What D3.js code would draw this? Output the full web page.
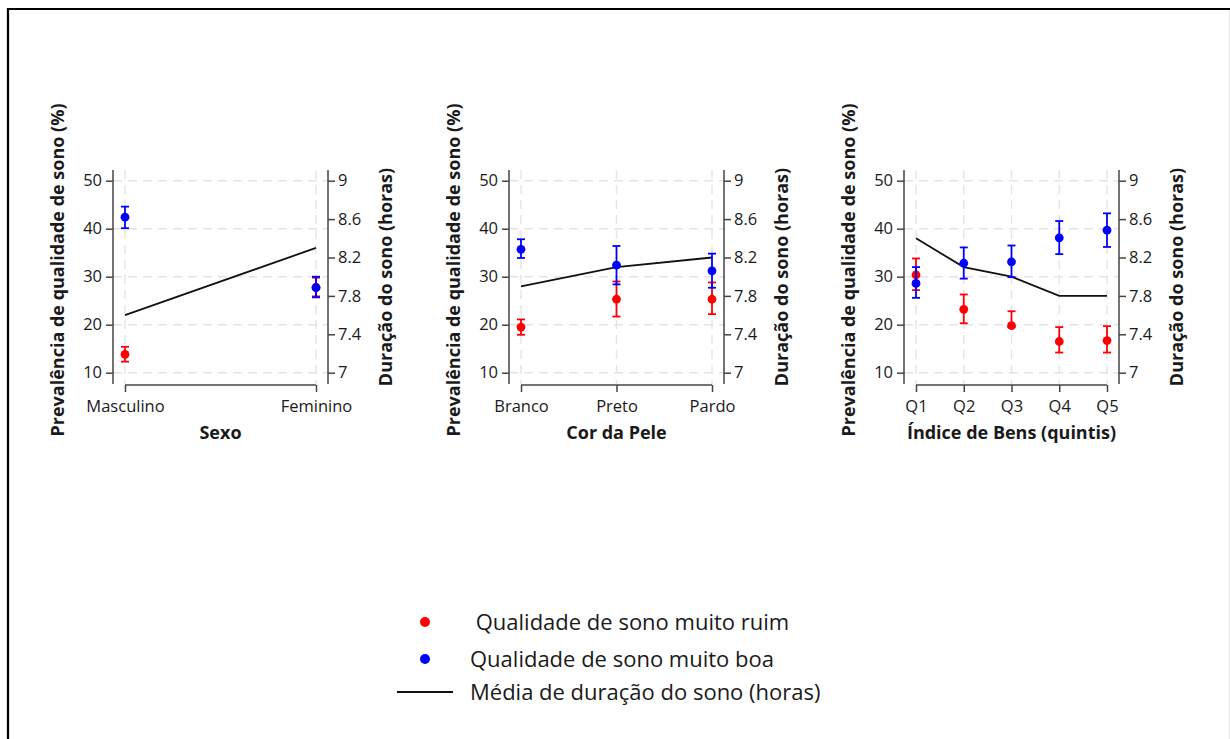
<!DOCTYPE html>
<html><head><meta charset="utf-8">
<script src="https://cdn.jsdelivr.net/npm/d3@7"></script>
<style>body{margin:0;background:#fff}svg{display:block}text{font-family:"Open Sans",sans-serif;fill:#1a1a1a}</style>
</head><body><svg id="c" width="1230" height="739"></svg>
<script>
// ---- data ----
const sexoCats = ["Masculino","Feminino"];
const sexoRuim = [13.8, 27.8];
const sexoRuimLo = [12.3, 25.9];
const sexoRuimHi = [15.4, 29.8];
const sexoBoa = [42.4, 27.7];
const sexoBoaLo = [40.1, 25.7];
const sexoBoaHi = [44.6, 30.0];
const sexoDur = [7.6, 8.3];

const peleCats = ["Branco","Preto","Pardo"];
const peleRuim = [19.5, 25.3, 25.3];
const peleRuimLo = [17.9, 21.7, 22.2];
const peleRuimHi = [21.1, 29.0, 28.8];
const peleBoa = [35.7, 32.4, 31.2];
const peleBoaLo = [33.9, 28.4, 27.7];
const peleBoaHi = [37.8, 36.4, 34.8];
const peleDur = [7.9, 8.1, 8.2];

const bensCats = ["Q1","Q2","Q3","Q4","Q5"];
const bensRuim = [30.4, 23.2, 19.8, 16.5, 16.7];
const bensRuimLo = [27.2, 20.3, 19.5, 14.2, 14.2];
const bensRuimHi = [33.8, 26.3, 22.8, 19.5, 19.7];
const bensBoa = [28.6, 32.8, 33.1, 38.1, 39.7];
const bensBoaLo = [25.6, 29.6, 29.9, 34.7, 36.2];
const bensBoaHi = [32.0, 36.1, 36.5, 41.6, 43.2];
const bensDur = [8.4, 8.1, 8.0, 7.8, 7.8];

const leftTicks = [10,20,30,40,50];
const rightTicks = [7,7.4,7.8,8.2,8.6,9];
const leftTitle = "Prevalência de qualidade de sono (%)";
const rightTitle = "Duração do sono (horas)";
const legendLabels = [" Qualidade de sono muito ruim","Qualidade de sono muito boa","Média de duração do sono (horas)"];

const panels = [
  {title:"Sexo", cats:sexoCats, ruim:sexoRuim, ruimLo:sexoRuimLo, ruimHi:sexoRuimHi, boa:sexoBoa, boaLo:sexoBoaLo, boaHi:sexoBoaHi, dur:sexoDur},
  {title:"Cor da Pele", cats:peleCats, ruim:peleRuim, ruimLo:peleRuimLo, ruimHi:peleRuimHi, boa:peleBoa, boaLo:peleBoaLo, boaHi:peleBoaHi, dur:peleDur},
  {title:"Índice de Bens (quintis)", cats:bensCats, ruim:bensRuim, ruimLo:bensRuimLo, ruimHi:bensRuimHi, boa:bensBoa, boaLo:bensBoaLo, boaHi:bensBoaHi, dur:bensDur}
];

// ---- drawing ----
const svg = d3.select("#c");
// frame
svg.append("line").attr("x1",8).attr("x2",1230).attr("y1",9).attr("y2",9).attr("stroke","#000").attr("stroke-width",2.2);
svg.append("line").attr("x1",8).attr("x2",8).attr("y1",8).attr("y2",739).attr("stroke","#000").attr("stroke-width",2.2);
svg.append("line").attr("x1",1229.5).attr("x2",1229.5).attr("y1",10).attr("y2",739).attr("stroke","#e4e4e4").attr("stroke-width",1);

const yTop = 180.7, yBot = 372.7;
const axisColor = "#444";
const RED = "#ff0000", BLUE = "#0000ff";
const lefts = [113, 509, 904];
const W = 215;
const TICKFS = 16.5, TITLEFS = 18;

panels.forEach((p, i) => {
  const L = lefts[i], R = L + W;
  const g = svg.append("g");
  const x = d3.scalePoint().domain(p.cats).range([L + 12, R - 12]);
  const yL = d3.scaleLinear().domain([10,50]).range([yBot, yTop]);
  const yR = d3.scaleLinear().domain([7,9]).range([yBot, yTop]);

  // grid
  g.selectAll(".hg").data(leftTicks).join("line")
    .attr("x1", L).attr("x2", R).attr("y1", d=>yL(d)).attr("y2", d=>yL(d))
    .attr("stroke","#e4e4e4").attr("stroke-width",1.4).attr("stroke-dasharray","9,6");
  g.selectAll(".vg").data(p.cats).join("line")
    .attr("x1", d=>x(d)).attr("x2", d=>x(d)).attr("y1", 170).attr("y2", 384)
    .attr("stroke","#e4e4e4").attr("stroke-width",1.4).attr("stroke-dasharray","9,6");

  // left axis
  const la = g.append("g").attr("transform",`translate(${L},0)`)
    .call(d3.axisLeft(yL).tickValues(leftTicks).tickSize(7).tickPadding(4).tickFormat(d3.format("d")));
  la.select(".domain").remove();
  la.append("line").attr("x1",0).attr("x2",0).attr("y1",170).attr("y2",384).attr("stroke",axisColor).attr("stroke-width",1.5);
  la.selectAll(".tick line").attr("stroke",axisColor).attr("stroke-width",1.5);
  la.selectAll(".tick text").attr("font-size",TICKFS).attr("font-family","Open Sans").attr("fill","#1a1a1a");

  // right axis
  const ra = g.append("g").attr("transform",`translate(${R},0)`)
    .call(d3.axisRight(yR).tickValues(rightTicks).tickSize(7).tickPadding(3).tickFormat(d => d3.format("~g")(d)));
  ra.select(".domain").remove();
  ra.append("line").attr("x1",0).attr("x2",0).attr("y1",170).attr("y2",384).attr("stroke",axisColor).attr("stroke-width",1.5);
  ra.selectAll(".tick line").attr("stroke",axisColor).attr("stroke-width",1.5);
  ra.selectAll(".tick text").attr("font-size",TICKFS).attr("font-family","Open Sans").attr("fill","#1a1a1a");

  // bottom axis
  const ba = g.append("g").attr("transform",`translate(0,385)`)
    .call(d3.axisBottom(x).tickSize(7).tickPadding(8));
  ba.select(".domain").remove();
  ba.append("line").attr("x1",x(p.cats[0])).attr("x2",x(p.cats[p.cats.length-1])).attr("y1",0).attr("y2",0).attr("stroke",axisColor).attr("stroke-width",1.5);
  ba.selectAll(".tick line").attr("stroke",axisColor).attr("stroke-width",1.5);
  ba.selectAll(".tick text").attr("font-size",TICKFS).attr("font-family","Open Sans").attr("fill","#1a1a1a");

  // axis titles
  g.append("text").attr("x", (L+R)/2).attr("y", 433).attr("dy","0.35em").attr("text-anchor","middle")
    .attr("font-size",TITLEFS).attr("font-weight","bold").text(p.title);
  g.append("text").attr("transform",`translate(${L-55},270) rotate(-90)`).attr("dy","0.35em").attr("text-anchor","middle")
    .attr("font-size",TITLEFS).attr("font-weight","bold").text(leftTitle);
  g.append("text").attr("transform",`translate(${R+58},277) rotate(-90)`).attr("dy","0.35em").attr("text-anchor","middle")
    .attr("font-size",TITLEFS).attr("font-weight","bold").text(rightTitle);

  // duration line
  g.append("path").datum(p.dur)
    .attr("d", d3.line().x((d,j)=>x(p.cats[j])).y(d=>yR(d)))
    .attr("fill","none").attr("stroke","#111").attr("stroke-width",1.8);

  // error bars and points
  const series = [
    {v:p.ruim, lo:p.ruimLo, hi:p.ruimHi, c:RED},
    {v:p.boa, lo:p.boaLo, hi:p.boaHi, c:BLUE}
  ];
  series.forEach(s => {
    const sg = g.append("g");
    p.cats.forEach((c, j) => {
      const cx = x(c);
      sg.append("line").attr("x1",cx).attr("x2",cx).attr("y1",yL(s.lo[j])).attr("y2",yL(s.hi[j])).attr("stroke",s.c).attr("stroke-width",1.8);
      sg.append("line").attr("x1",cx-4).attr("x2",cx+4).attr("y1",yL(s.lo[j])).attr("y2",yL(s.lo[j])).attr("stroke",s.c).attr("stroke-width",1.8);
      sg.append("line").attr("x1",cx-4).attr("x2",cx+4).attr("y1",yL(s.hi[j])).attr("y2",yL(s.hi[j])).attr("stroke",s.c).attr("stroke-width",1.8);
      sg.append("circle").attr("cx",cx).attr("cy",yL(s.v[j])).attr("r",4.4).attr("fill",s.c);
    });
  });
});

// legend
const lg = svg.append("g");
lg.append("circle").attr("cx",425).attr("cy",622).attr("r",5).attr("fill",RED);
lg.append("circle").attr("cx",425).attr("cy",659).attr("r",5).attr("fill",BLUE);
lg.append("line").attr("x1",397).attr("x2",453).attr("y1",692).attr("y2",692).attr("stroke","#111").attr("stroke-width",2);
lg.append("text").attr("x",470).attr("y",622).attr("dy","0.35em").attr("font-size",22).style("white-space","pre").text(legendLabels[0]);
lg.append("text").attr("x",470).attr("y",659).attr("dy","0.35em").attr("font-size",22).text(legendLabels[1]);
lg.append("text").attr("x",470).attr("y",692).attr("dy","0.35em").attr("font-size",22).text(legendLabels[2]);
</script></body></html>
